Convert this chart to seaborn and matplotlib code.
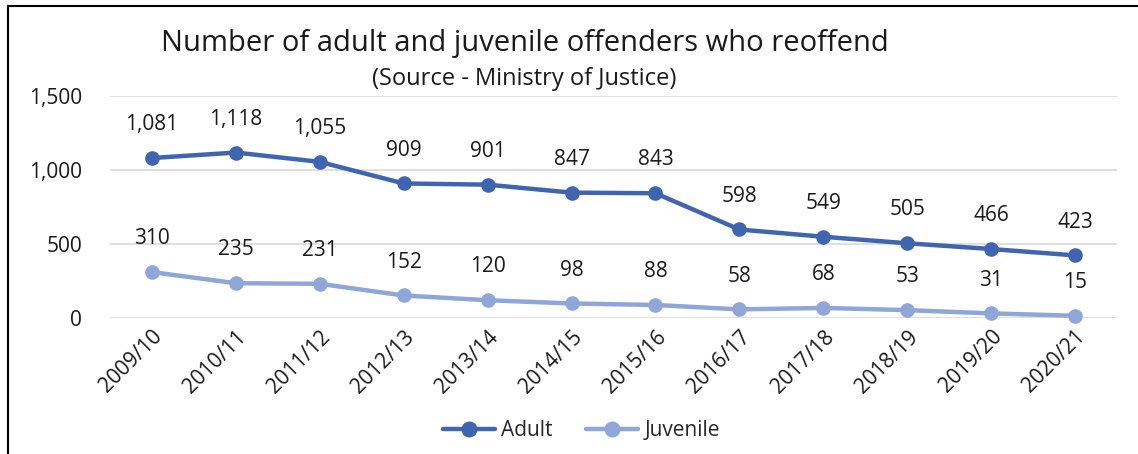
import matplotlib
matplotlib.use("Agg")
import matplotlib.pyplot as plt
import seaborn as sns
import pandas as pd
from matplotlib.lines import Line2D

years = ["2009/10", "2010/11", "2011/12", "2012/13", "2013/14", "2014/15",
         "2015/16", "2016/17", "2017/18", "2018/19", "2019/20", "2020/21"]
adult = [1081, 1118, 1055, 909, 901, 847, 843, 598, 549, 505, 466, 423]
juvenile = [310, 235, 231, 152, 120, 98, 88, 58, 68, 53, 31, 15]
y_ticks = [0, 500, 1000, 1500]

adult_col = "#4065B0"
juv_col = "#8EA6D8"

sns.set_theme(style="white")
plt.rcParams["font.family"] = ["Open Sans", "DejaVu Sans"]

df = pd.DataFrame({"Year": years * 2,
                   "Value": adult + juvenile,
                   "Series": ["Adult"] * len(years) + ["Juvenile"] * len(years)})

fig = plt.figure(figsize=(11.38, 4.54), dpi=100)
ax = fig.add_axes([0.0967, 0.2996, 0.8848, 0.4889])

sns.lineplot(data=df, x="Year", y="Value", hue="Series",
             palette={"Adult": adult_col, "Juvenile": juv_col},
             marker="o", markersize=10.5, markeredgewidth=0, linewidth=3.2,
             sort=False, legend=False, ax=ax)
for ln in ax.lines:
    ln.set_clip_on(False)
    ln.set_solid_capstyle("round")

for i, (a, j) in enumerate(zip(adult, juvenile)):
    ax.annotate(f"{a:,}", (i, a), xytext=(0, 24), textcoords="offset points",
                ha="center", va="center", fontsize=15, color="#1a1a1a")
    ax.annotate(f"{j:,}", (i, j), xytext=(0, 24), textcoords="offset points",
                ha="center", va="center", fontsize=15, color="#1a1a1a")

ax.set_xlim(-0.5, len(years) - 0.5)
ax.set_ylim(0, 1500)
ax.set_yticks(y_ticks)
ax.set_yticklabels([f"{v:,}" for v in y_ticks], fontsize=15, color="#1a1a1a")
ax.set_xticks(range(len(years)))
ax.set_xticklabels(years, rotation=45, ha="right", rotation_mode="anchor",
                   fontsize=15, color="#1a1a1a")
ax.tick_params(axis="y", pad=20, length=0)
ax.tick_params(axis="x", pad=6, length=0)
ax.set_xlabel("")
ax.set_ylabel("")
ax.grid(axis="y", color="#d9d9d9", linewidth=1.2)
ax.set_axisbelow(True)
for s in ax.spines.values():
    s.set_visible(False)

fig.text(0.461, 0.905, "Number of adult and juvenile offenders who reoffend",
         ha="center", va="center", fontsize=21, color="#1a1a1a")
fig.text(0.461, 0.826, "(Source - Ministry of Justice)",
         ha="center", va="center", fontsize=17, color="#1a1a1a")

handles = [Line2D([0], [0], color=adult_col, lw=3.2, marker="o", markersize=10.5,
                  solid_capstyle="round"),
           Line2D([0], [0], color=juv_col, lw=3.2, marker="o", markersize=10.5,
                  solid_capstyle="round")]
fig.legend(handles, ["Adult", "Juvenile"], loc="center", bbox_to_anchor=(0.511, 0.052),
           ncol=2, frameon=False, fontsize=15, handlelength=2.5, handletextpad=0.3,
           columnspacing=1.6)

# chart border (left and top edges visible)
fig.add_artist(Line2D([8 / 1138, 8 / 1138], [0, 1 - 6 / 454], color="black", lw=1.5))
fig.add_artist(Line2D([8 / 1138, 1], [1 - 6 / 454, 1 - 6 / 454], color="black", lw=1.5))

fig.savefig("out.png", dpi=100, facecolor="white")
